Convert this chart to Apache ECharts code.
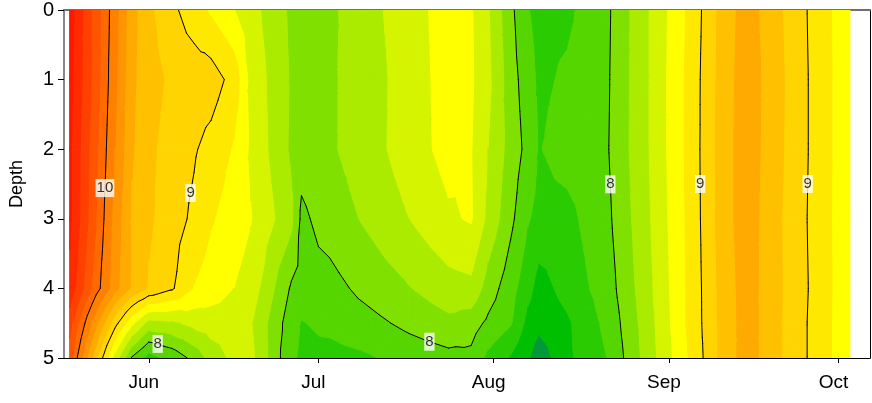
<!DOCTYPE html>
<html>
<head>
<meta charset="utf-8">
<script src="https://cdn.jsdelivr.net/npm/echarts@6/dist/echarts.min.js"></script>
<style>
  html, body { margin: 0; padding: 0; background: #fff; }
  #chart { width: 872px; height: 403px; }
</style>
</head>
<body>
<div id="chart"></div>
<script>
// Sampling days (day of year) and depths of the profile grid
const dayOfYear = [138, 142, 146, 149, 152, 156, 160, 163, 167, 170, 177, 179, 184, 191, 198,
                   205, 209, 212, 216, 219, 221, 226, 233, 240, 247, 254, 258, 261, 268, 276];
const depths = [0, 1, 2, 3, 4, 4.5, 5];

// Values at each depth, one per sampling day
const depth0   = [10.9, 10.38, 9.88, 9.47, 9.24, 9.05, 8.89, 8.77, 8.61, 8.48, 8.17, 8.11, 8.16, 8.34, 8.51,
                  8.69, 8.62, 8.42, 8.05, 7.81, 7.75, 7.76, 7.96, 8.37, 8.8, 9.31, 9.5, 9.34, 9.02, 8.65];
const depth1   = [10.87, 10.38, 9.85, 9.44, 9.28, 9.16, 9.12, 9.1, 8.93, 8.54, 8.19, 8.14, 8.17, 8.31, 8.5,
                  8.68, 8.63, 8.45, 8.09, 7.89, 7.76, 7.83, 7.97, 8.37, 8.82, 9.32, 9.52, 9.36, 9.03, 8.65];
const depth2   = [10.84, 10.33, 9.8, 9.42, 9.24, 9.12, 9.02, 8.93, 8.78, 8.57, 8.18, 8.08, 8.17, 8.32, 8.5,
                  8.67, 8.61, 8.4, 8.12, 7.94, 7.79, 7.88, 7.98, 8.37, 8.82, 9.33, 9.52, 9.35, 9.03, 8.65];
const depth3   = [10.84, 10.3, 9.72, 9.375, 9.23, 9.09, 8.96, 8.82, 8.7, 8.61, 8.27, 7.96, 8.09, 8.24, 8.4,
                  8.57, 8.62, 8.35, 8.05, 7.82, 7.74, 7.74, 7.95, 8.35, 8.81, 9.33, 9.52, 9.33, 9.02, 8.65];
const depth4   = [10.75, 10.18, 9.67, 9.37, 9.18, 9.03, 8.79, 8.7, 8.6, 8.52, 7.99, 7.93, 7.93, 8.07, 8.19,
                  8.32, 8.35, 8.11, 7.88, 7.67, 7.52, 7.67, 7.9, 8.32, 8.8, 9.31, 9.5, 9.33, 9.03, 8.65];
const depth4_5 = [10.48, 9.77, 9.08, 8.65, 8.33, 8.36, 8.46, 8.5, 8.5, 8.42, 7.9, 7.79, 7.85, 7.94, 8.05,
                  8.15, 8.09, 7.96, 7.82, 7.54, 7.46, 7.57, 7.85, 8.29, 8.8, 9.3, 9.5, 9.33, 9.02, 8.65];
const depth5   = [10.3, 9.4, 8.52, 7.98, 7.72, 7.86, 8.06, 8.28, 8.45, 8.46, 7.85, 7.76, 7.73, 7.78, 7.88,
                  7.94, 7.95, 7.75, 7.58, 7.43, 7.28, 7.56, 7.8, 8.27, 8.77, 9.3, 9.5, 9.33, 9.02, 8.65];
const profile = [depth0, depth1, depth2, depth3, depth4, depth4_5, depth5];

// Time axis: month starts (labelled) and weekly ticks
const monthStarts = [152, 182, 213, 244, 274];
const monthLabels = ['Jun', 'Jul', 'Aug', 'Sep', 'Oct'];
const weekTicks = [142, 149, 156, 163, 170, 177, 184, 191, 198, 205, 212, 219, 226, 233, 240, 247, 254, 261, 268, 275];

// Filled contour classes and isolines
const bandLevels = [7.4, 7.6, 7.8, 8.0, 8.2, 8.4, 8.6, 8.8, 9.0, 9.2, 9.4, 9.6, 9.8, 10.0, 10.2, 10.4, 10.6, 10.8];
const bandColors = ['#00993a', '#00be00', '#2acb00', '#55d600', '#80e100', '#aaeb00', '#d4f400', '#ffff00',
                    '#ffe800', '#ffd400', '#ffc000', '#ffaa00', '#ff9500', '#ff8000', '#ff6a00', '#ff5500',
                    '#ff4000', '#ff2b00', '#ff1800'];
const lineLevels = [8, 9, 10];
// Isoline labels: level, approximate day, approximate depth
const lineLabels = [[10, 144.6, 2.56], [9, 159.4, 2.63], [8, 153.7, 4.75], [8, 202, 4.66],
                    [8, 235, 2.5], [9, 249.8, 2.5], [9, 268.3, 2.5]];

const xMin = 137, xMax = 279.55;

// Split a grid cell into four triangles around its centre
function cellTriangles(i, j, toPoint) {
  const c = [[i, j], [i + 1, j], [i + 1, j + 1], [i, j + 1]]
    .map(([a, b]) => toPoint(dayOfYear[a], depths[b], profile[b][a]));
  const m = {
    x: (c[0].x + c[1].x + c[2].x + c[3].x) / 4,
    y: (c[0].y + c[1].y + c[2].y + c[3].y) / 4,
    v: (c[0].v + c[1].v + c[2].v + c[3].v) / 4
  };
  return [0, 1, 2, 3].map(k => [c[k], c[(k + 1) % 4], m]);
}

// Keep the part of a polygon above (or below) a level, interpolating linearly
function clipPoly(poly, level, keepAbove) {
  const out = [];
  for (let k = 0; k < poly.length; k++) {
    const a = poly[k], b = poly[(k + 1) % poly.length];
    const ina = keepAbove ? a.v >= level : a.v <= level;
    const inb = keepAbove ? b.v >= level : b.v <= level;
    if (ina) out.push(a);
    if (ina !== inb) {
      const t = (level - a.v) / (b.v - a.v);
      out.push({ x: a.x + t * (b.x - a.x), y: a.y + t * (b.y - a.y), v: level });
    }
  }
  return out;
}

function levelSegment(tri, L) {
  const pts = [];
  for (let k = 0; k < 3; k++) {
    const a = tri[k], b = tri[(k + 1) % 3];
    if ((a.v >= L) !== (b.v >= L)) {
      const t = (L - a.v) / (b.v - a.v);
      pts.push({ x: a.x + t * (b.x - a.x), y: a.y + t * (b.y - a.y) });
    }
  }
  return pts.length === 2 ? pts : null;
}

function pixelPoint(api) {
  return (d, z, v) => { const p = api.coord([d, z]); return { x: p[0], y: p[1], v }; };
}

function renderBands(params, api) {
  const tris = cellTriangles(api.value(2), api.value(3), pixelPoint(api));
  const children = [];
  tris.forEach(tri => {
    const vs = tri.map(p => p.v);
    const vmin = Math.min(...vs), vmax = Math.max(...vs);
    for (let b = 0; b < bandColors.length; b++) {
      const lo = b === 0 ? -Infinity : bandLevels[b - 1];
      const hi = b === bandLevels.length ? Infinity : bandLevels[b];
      if (vmax < lo || vmin > hi) continue;
      let poly = tri;
      if (lo > -Infinity) poly = clipPoly(poly, lo, true);
      if (poly.length >= 3 && hi < Infinity) poly = clipPoly(poly, hi, false);
      if (poly.length < 3) continue;
      children.push({
        type: 'polygon', silent: true,
        shape: { points: poly.map(p => [p.x, p.y]) },
        style: { fill: bandColors[b], stroke: bandColors[b], lineWidth: 1, lineJoin: 'round' }
      });
    }
  });
  return { type: 'group', children };
}

function renderLines(params, api) {
  const tris = cellTriangles(api.value(2), api.value(3), pixelPoint(api));
  const children = [];
  tris.forEach(tri => {
    lineLevels.forEach(L => {
      const s = levelSegment(tri, L);
      if (!s) return;
      children.push({
        type: 'line', silent: true,
        shape: { x1: s[0].x, y1: s[0].y, x2: s[1].x, y2: s[1].y },
        style: { stroke: '#000', lineWidth: 1, lineCap: 'round' }
      });
    });
  });
  return { type: 'group', children };
}

// Grid cells handed to the custom series
const cells = [];
for (let j = 0; j < depths.length - 1; j++) {
  for (let i = 0; i < dayOfYear.length - 1; i++) {
    cells.push([dayOfYear[i], depths[j], i, j]);
  }
}

// Place each isoline label on the nearest point of its isoline
const depthScale = 12.5;
const labelPoints = lineLabels.map(([L, d0, z0]) => {
  let best = null, bestDist = Infinity;
  const px = d0, py = z0 * depthScale;
  for (let j = 0; j < depths.length - 1; j++) {
    for (let i = 0; i < dayOfYear.length - 1; i++) {
      cellTriangles(i, j, (d, z, v) => ({ x: d, y: z * depthScale, v })).forEach(tri => {
        const s = levelSegment(tri, L);
        if (!s) return;
        const dx = s[1].x - s[0].x, dy = s[1].y - s[0].y;
        const len2 = dx * dx + dy * dy || 1e-9;
        let t = ((px - s[0].x) * dx + (py - s[0].y) * dy) / len2;
        t = Math.max(0, Math.min(1, t));
        const qx = s[0].x + t * dx, qy = s[0].y + t * dy;
        const dist = (qx - px) ** 2 + (qy - py) ** 2;
        if (dist < bestDist) { bestDist = dist; best = [qx, qy / depthScale]; }
      });
    }
  }
  return [best[0], best[1], String(L)];
});

const font = 'Liberation Sans, Arial, sans-serif';
const chart = echarts.init(document.getElementById('chart'), null, { renderer: 'canvas' });
chart.setOption({
  animation: false,
  backgroundColor: '#fff',
  grid: { left: 61, right: 2, top: 3, bottom: 45 },
  xAxis: [
    {
      type: 'value', min: xMin, max: xMax, position: 'bottom',
      axisLine: { show: true, onZero: false, lineStyle: { color: '#000', width: 1 } },
      axisTick: { show: true, customValues: monthStarts, length: 5, lineStyle: { color: '#000' } },
      axisLabel: {
        customValues: monthStarts,
        formatter: v => monthLabels[monthStarts.indexOf(v)],
        fontSize: 19, color: '#000', fontFamily: font, margin: 15, padding: [0, 10, 0, 0]
      },
      splitLine: { show: false }
    },
    {
      type: 'value', min: xMin, max: xMax, position: 'bottom',
      axisLine: { show: false },
      axisTick: { show: true, customValues: weekTicks, length: 4, lineStyle: { color: '#000' } },
      axisLabel: { show: false },
      splitLine: { show: false }
    },
    {
      type: 'value', min: xMin, max: xMax, position: 'top',
      axisLine: { show: true, onZero: false, lineStyle: { color: '#707070', width: 2 } },
      axisTick: { show: false }, axisLabel: { show: false }, splitLine: { show: false }
    }
  ],
  yAxis: [
    {
      type: 'value', inverse: true, min: 0, max: 5, interval: 1,
      name: 'Depth', nameLocation: 'middle', nameGap: 38, nameRotate: 90,
      nameTextStyle: { fontSize: 18, color: '#000', fontFamily: font },
      axisLine: { show: true, onZero: false, lineStyle: { color: '#888', width: 2 } },
      axisTick: { show: true, length: 6, lineStyle: { color: '#000' } },
      axisLabel: { fontSize: 20, color: '#000', fontFamily: font, margin: 10 },
      splitLine: { show: false }
    },
    {
      type: 'value', inverse: true, min: 0, max: 5, position: 'right',
      axisLine: { show: true, onZero: false, lineStyle: { color: '#000', width: 1 } },
      axisTick: { show: false }, axisLabel: { show: false }, splitLine: { show: false }
    }
  ],
  series: [
    {
      name: 'bands', type: 'custom', coordinateSystem: 'cartesian2d',
      xAxisIndex: 0, yAxisIndex: 0, clip: true, z: 1,
      encode: { x: 0, y: 1 }, data: cells, renderItem: renderBands
    },
    {
      name: 'isolines', type: 'custom', coordinateSystem: 'cartesian2d',
      xAxisIndex: 0, yAxisIndex: 0, clip: true, z: 2,
      encode: { x: 0, y: 1 }, data: cells, renderItem: renderLines
    },
    {
      name: 'isoline labels', type: 'scatter', xAxisIndex: 0, yAxisIndex: 0, z: 3,
      symbolSize: 0, silent: true,
      data: labelPoints,
      label: {
        show: true, position: 'inside', formatter: p => p.value[2],
        fontSize: 15, color: '#000', fontFamily: font,
        backgroundColor: '#fff', padding: [2, 1, 1, 1]
      }
    }
  ]
});
</script>
</body>
</html>
